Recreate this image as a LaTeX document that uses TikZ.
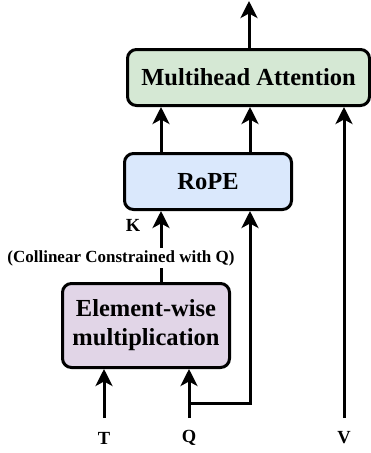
\documentclass[tikz,border=0pt]{standalone}
\usepackage{fontspec}
\setmainfont{Liberation Serif}
\usetikzlibrary{arrows.meta,calc}
\definecolor{mhagreen}{HTML}{D5E8D4}
\definecolor{ropeblue}{HTML}{DAE8FC}
\definecolor{mulpurple}{HTML}{E1D5E7}
\begin{document}
\begin{tikzpicture}[x=1pt,y=-1pt,
  box/.style={draw=black, line width=3pt, rounded corners=9pt, inner sep=0pt, align=center,
    font=\fontsize{24.5}{29}\selectfont\bfseries},
  conn/.style={line width=3pt, -{Stealth[length=17pt,width=17pt,inset=4.5pt]}},
  lbl/.style={font=\fontsize{18.5}{21}\selectfont\bfseries, inner sep=1pt},
  note/.style={font=\fontsize{17}{20}\selectfont\bfseries, fill=white, inner sep=2pt}]
\useasboundingbox (0,0) rectangle (371,453);

% boxes
\node[box, fill=mhagreen, minimum width=242pt, minimum height=56pt] (mha) at (248.5,77.5) {Multihead Attention};
\node[box, fill=ropeblue, minimum width=167pt, minimum height=56pt] (rope) at (208,181.5) {RoPE};
\node[box, fill=mulpurple, minimum width=167pt, minimum height=84pt] (mul) at (146,325.5) {Element-wise\\multiplication};

% column coordinates
\coordinate (c1) at (161,0);
\coordinate (c2) at (250,0);
\coordinate (cv) at (344,0);
\coordinate (top) at (249,1);

% inputs
\node[lbl] (T) at (104,438) {T};
\node[lbl] (Q) at (189,438) {Q};
\node[lbl] (V) at (344,438) {V};
\coordinate (tstart) at (104,418);
\coordinate (qstart) at (189,418);
\coordinate (qsplit) at (189,403);
\coordinate (vstart) at (344,418);

% connectors
\draw[conn] (mha.north -| top) -- (top);
\draw[conn] (rope.north -| c1) -- (mha.south -| c1);
\draw[conn] (rope.north -| c2) -- (mha.south -| c2);
\draw[conn] (vstart) -- (mha.south -| cv);
\draw[conn] (mul.north -| c1) -- (rope.south -| c1);
\draw[conn] (qsplit) -| (rope.south -| c2);
\draw[conn] (tstart) -- (mul.south -| tstart);
\draw[conn] (qstart) -- (mul.south -| qstart);

% labels
\node[lbl] (K) at (133,225) {K};
\node[note] (coll) at (121,258) {(Collinear Constrained with Q)};
\end{tikzpicture}
\end{document}
